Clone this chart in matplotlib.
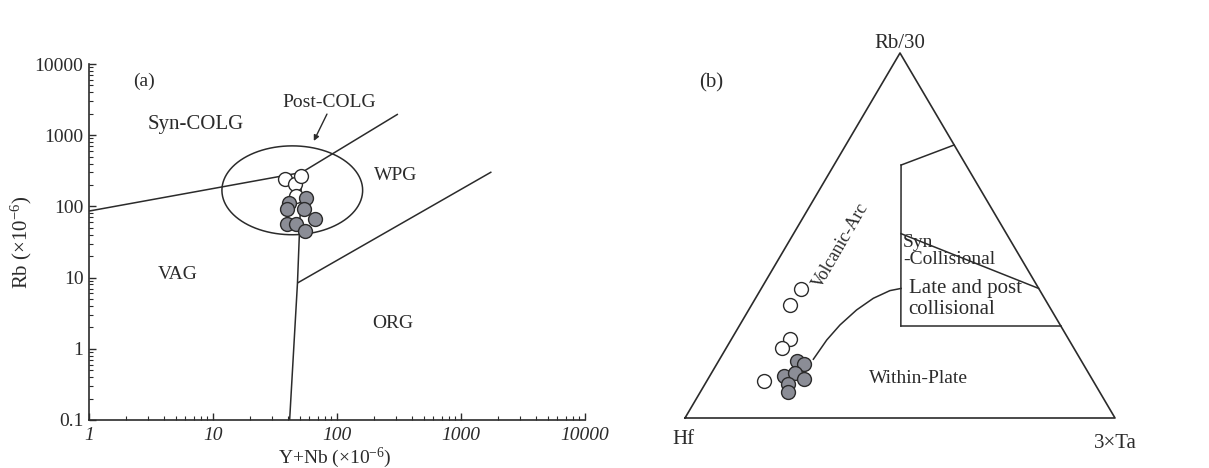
import numpy as np
import matplotlib
matplotlib.use("Agg")
import matplotlib.pyplot as plt
from matplotlib.ticker import LogLocator, FixedFormatter, NullFormatter

plt.rcParams['font.family'] = ['Liberation Serif', 'DejaVu Serif']
plt.rcParams['mathtext.fontset'] = 'custom'
plt.rcParams['mathtext.rm'] = 'Liberation Serif'
plt.rcParams['mathtext.it'] = 'Liberation Serif:italic'

INK = '#2b2b2b'
GREY = '#8b8d96'

# ---- panel (a): Y+Nb vs Rb (Pearce et al. 1984) ----
open_a_ynb = [38, 46, 47, 51]
open_a_rb = [245, 204, 140, 267]
fill_a_ynb = [41, 56, 39.5, 54, 67, 39.5, 47, 55]
fill_a_rb = [113, 132, 91, 91, 66, 56, 56, 45]

# field boundaries
syn_vag_x = [1, 52]
syn_vag_y = [86, 300]
syn_wpg_x = [52, 310]
syn_wpg_y = [300, 1980]
vag_org_x = [41.5, 48, 52]
vag_org_y = [0.1, 8.4, 300]
org_wpg_x = [48, 1760]
org_wpg_y = [8.4, 305]
# post-COLG ellipse extent (log-centred)
ell_x = (11.8, 161)
ell_y = (40, 708)

a_labels = ['(a)', 'Syn-COLG', 'Post-COLG', 'WPG', 'VAG', 'ORG']
a_label_x = [2.8, 7.2, 86, 298, 5.2, 284]
a_label_y = [5800, 1400, 2900, 270, 11, 2.3]
a_label_size = [14, 15, 14, 14, 14, 14]

x_ticks = [1, 10, 100, 1000, 10000]
x_ticklabels = ['1', '10', '100', '1000', '10000']
y_ticks = [0.1, 1, 10, 100, 1000, 10000]
y_ticklabels = ['0.1', '1', '10', '100', '1000', '10000']

# ---- panel (b): Rb/30 - Hf - 3Ta (Harris et al. 1986), (Rb/30, Hf, 3Ta) % ----
open_b = [(35.3, 55.4, 9.3), (30.9, 60.0, 9.0), (21.6, 64.7, 13.7),
          (19.3, 67.9, 12.8), (10.1, 76.6, 13.4)]
fill_b = [(15.5, 66.3, 18.2), (14.7, 64.9, 20.4), (11.6, 71.2, 17.2),
          (12.2, 68.3, 19.5), (10.6, 67.0, 22.4), (9.3, 71.3, 19.4),
          (7.1, 72.5, 20.4)]
b_top_seg = [(69.3, 15.1, 15.6), (74.8, 0.0, 25.2)]
b_vertical = [(69.3, 15.1, 15.6), (25.2, 37.2, 37.6)]
b_mid_seg = [(50.5, 24.5, 25.0), (35.5, 0.0, 64.5)]
b_bottom_seg = [(25.2, 37.2, 37.6), (25.2, 0.0, 74.8)]
b_curve = [(16.1, 62.1, 21.8), (21.4, 56.4, 22.3), (25.5, 51.2, 23.3),
           (29.6, 45.3, 25.1), (32.8, 39.8, 27.4), (34.9, 34.9, 30.2),
           (35.5, 32.0, 32.5)]


def tern(points):
    p = np.array(points, dtype=float)
    p = p / p.sum(axis=1, keepdims=True)
    top, left, right = p[:, 0], p[:, 1], p[:, 2]
    return right + top / 2, top


fig = plt.figure(figsize=(12.09, 4.68), dpi=100)
fig.patch.set_facecolor('white')

# ---------------- panel (a) ----------------
ax = fig.add_axes([89 / 1209, 1 - 420 / 468, 496 / 1209, 356 / 468])
ax.set_xscale('log')
ax.set_yscale('log')
ax.set_xlim(1, 10000)
ax.set_ylim(0.1, 10000)
for s in ['top', 'right']:
    ax.spines[s].set_visible(False)
for s in ['left', 'bottom']:
    ax.spines[s].set_color(INK)
    ax.spines[s].set_linewidth(1.2)

ax.set_xticks(x_ticks)
ax.set_yticks(y_ticks)
ax.xaxis.set_major_formatter(FixedFormatter(x_ticklabels))
ax.yaxis.set_major_formatter(FixedFormatter(y_ticklabels))
ax.xaxis.set_minor_locator(LogLocator(base=10, subs=np.arange(2, 10)))
ax.yaxis.set_minor_locator(LogLocator(base=10, subs=np.arange(2, 10)))
ax.xaxis.set_minor_formatter(NullFormatter())
ax.yaxis.set_minor_formatter(NullFormatter())
ax.tick_params(which='major', direction='in', length=5, width=1, color=INK,
               labelsize=14, labelcolor=INK, pad=4)
ax.tick_params(axis='x', which='major', pad=5)
ax.tick_params(which='minor', direction='in', length=3, width=0.8, color=INK)
for t in ax.get_xticklabels():
    t.set_fontstyle('italic')

line_kw = dict(color=INK, lw=1.1, solid_capstyle='butt')
ax.plot(syn_vag_x, syn_vag_y, **line_kw)
ax.plot(syn_wpg_x, syn_wpg_y, **line_kw)
ax.plot(vag_org_x, vag_org_y, **line_kw)
ax.plot(org_wpg_x, org_wpg_y, **line_kw)

cx = (np.log10(ell_x[0]) + np.log10(ell_x[1])) / 2
rx = (np.log10(ell_x[1]) - np.log10(ell_x[0])) / 2
cy = (np.log10(ell_y[0]) + np.log10(ell_y[1])) / 2
ry = (np.log10(ell_y[1]) - np.log10(ell_y[0])) / 2
t = np.linspace(0, 2 * np.pi, 300)
ax.plot(10 ** (cx + rx * np.cos(t)), 10 ** (cy + ry * np.sin(t)), **line_kw)

ax.annotate('', xy=(65, 830), xytext=(83, 1980),
            arrowprops=dict(arrowstyle='-|>', color=INK, lw=1.0,
                            mutation_scale=8, shrinkA=0, shrinkB=0))

mk = dict(ls='none', marker='o', ms=10, mec=INK, mew=1.0, zorder=5)
ax.plot(open_a_ynb, open_a_rb, mfc='white', **mk)
ax.plot(fill_a_ynb, fill_a_rb, mfc=GREY, **mk)

for lab, x, y, fs in zip(a_labels, a_label_x, a_label_y, a_label_size):
    ax.text(x, y, lab, ha='center', va='center', fontsize=fs, color=INK)

ax.set_xlabel('Y+Nb (×10$^{-6}$)', fontsize=14, color=INK)
ax.set_ylabel('Rb (×10$^{-6}$)', fontsize=15, color=INK)
ax.xaxis.set_label_coords(0.495, -0.107)
ax.yaxis.set_label_coords(-0.137, 0.5)
ax.xaxis.label.set_va('center')
ax.yaxis.label.set_va('center')

# ---------------- panel (b) ----------------
bx = fig.add_axes([685 / 1209, 1 - 418 / 468, 430 / 1209, 365 / 468])
bx.set_xlim(0, 1)
bx.set_ylim(0, 1)
bx.axis('off')

bx.plot([0, 1, 0.5, 0], [0, 0, 1, 0], color=INK, lw=1.2, clip_on=False)
for seg in [b_top_seg, b_vertical, b_mid_seg, b_bottom_seg, b_curve]:
    xs, ys = tern(seg)
    bx.plot(xs, ys, color=INK, lw=1.1, clip_on=False)

xs, ys = tern(open_b)
bx.plot(xs, ys, mfc='white', **mk)
xs, ys = tern(fill_b)
bx.plot(xs, ys, mfc=GREY, **mk)

bx.text(0.5, 1.014, 'Rb/30', ha='center', va='baseline', fontsize=15, color=INK)
bx.text(-0.003, -0.058, 'Hf', ha='center', va='center', fontsize=15, color=INK)
bx.text(1.0, -0.07, '3×Ta', ha='center', va='center', fontsize=15, color=INK)
bx.text(0.060, 0.918, '(b)', ha='center', va='center', fontsize=15, color=INK)
bx.text(0.362, 0.473, 'Volcanic-Arc', ha='center', va='center', fontsize=13,
        rotation=60, color=INK)
bx.text(0.507, 0.458, 'Syn\n-Collisional', ha='left', va='center', fontsize=14,
        linespacing=0.95, color=INK)
bx.text(0.52, 0.326, 'Late and post\ncollisional', ha='left', va='center',
        fontsize=15, linespacing=1.1, color=INK)
bx.text(0.543, 0.107, 'Within-Plate', ha='center', va='center', fontsize=14,
        color=INK)

fig.savefig('out.png', dpi=100, facecolor='white')
